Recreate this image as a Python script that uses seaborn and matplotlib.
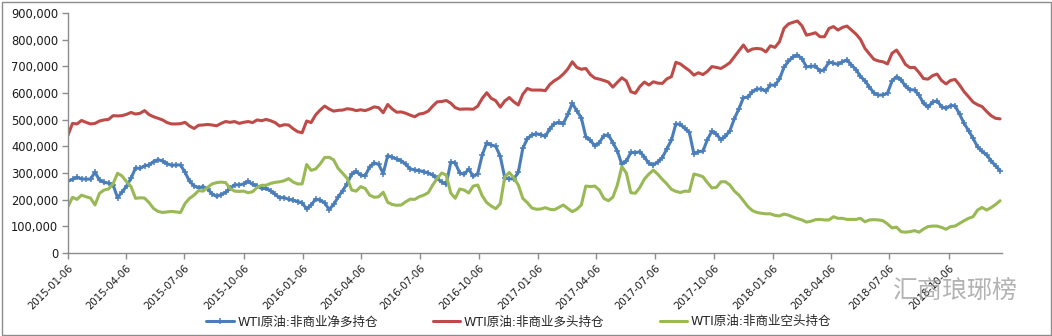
import numpy as np
import pandas as pd
import matplotlib
matplotlib.use("Agg")
import matplotlib.pyplot as plt
import matplotlib.ticker as mticker
from matplotlib.patches import Rectangle
import seaborn as sns

# Weekly WTI crude non-commercial positions (thousand contracts), weekly from 2015-01-06
start_date = "2015-01-06"

net_long = [
    270, 276, 284, 278, 277, 277, 303, 273, 265, 262, 256, 208, 228, 251, 280, 319,
    317, 327, 330, 343, 350, 345, 335, 329, 330, 330, 302, 269, 252, 245, 249, 240,
    222, 212, 219, 227, 242, 256, 255, 259, 269, 257, 252, 242, 242, 233, 220, 207,
    208, 201, 198, 193, 188, 165, 180, 202, 198, 188, 163, 182, 210, 234, 260, 296,
    306, 292, 290, 323, 338, 332, 298, 365, 359, 352, 346, 332, 316, 311, 309, 305,
    300, 292, 280, 266, 258, 340, 338, 300, 295, 315, 287, 298, 368, 413, 405, 400,
    362, 282, 278, 278, 302, 392, 429, 442, 447, 444, 437, 466, 485, 490, 485, 520,
    562, 533, 507, 436, 422, 402, 414, 440, 443, 414, 383, 332, 345, 377, 376, 380,
    360, 336, 330, 342, 358, 391, 423, 484, 482, 467, 452, 372, 380, 382, 425, 457,
    446, 425, 437, 459, 504, 541, 582, 585, 605, 615, 615, 607, 630, 629, 652, 696,
    719, 735, 742, 729, 698, 700, 701, 682, 688, 716, 712, 707, 717, 724, 705, 688,
    662, 646, 622, 600, 592, 593, 599, 645, 661, 650, 625, 613, 611, 592, 561, 547,
    566, 570, 549, 542, 553, 552, 521, 486, 459, 430, 398, 381, 368, 346, 327, 309,
]

long_pos = [
    442, 486, 484, 497, 490, 484, 486, 495, 499, 501, 515, 514, 515, 520, 527, 521,
    524, 534, 519, 511, 505, 499, 489, 484, 484, 485, 490, 476, 467, 479, 480, 482,
    480, 477, 486, 493, 490, 493, 486, 490, 493, 489, 499, 496, 501, 496, 489, 476,
    481, 480, 466, 455, 451, 495, 489, 518, 536, 551, 540, 532, 535, 536, 541, 539,
    534, 537, 534, 540, 548, 545, 526, 557, 540, 528, 529, 524, 517, 511, 521, 524,
    532, 551, 567, 568, 572, 562, 545, 539, 540, 540, 539, 551, 580, 601, 580, 571,
    547, 570, 583, 567, 555, 595, 617, 611, 611, 611, 609, 632, 646, 656, 671, 690,
    717, 696, 689, 692, 669, 656, 652, 647, 641, 622, 640, 657, 645, 605, 599, 624,
    641, 630, 642, 637, 636, 653, 661, 715, 709, 696, 684, 667, 676, 669, 681, 699,
    696, 692, 702, 714, 736, 758, 780, 756, 765, 767, 765, 754, 777, 771, 792, 842,
    859, 865, 870, 852, 817, 821, 826, 811, 811, 842, 849, 836, 846, 851, 836, 821,
    801, 767, 746, 726, 720, 717, 709, 749, 761, 736, 707, 695, 696, 677, 654, 652,
    665, 671, 647, 634, 647, 651, 630, 605, 586, 566, 556, 549, 531, 515, 505, 503,
]

short_pos = [
    174, 209, 201, 217, 211, 206, 180, 224, 236, 240, 259, 299, 289, 267, 249, 205,
    207, 206, 189, 167, 156, 152, 154, 156, 154, 152, 186, 205, 217, 234, 232, 246,
    259, 264, 266, 264, 242, 232, 231, 232, 226, 230, 246, 254, 254, 261, 265, 267,
    271, 279, 266, 259, 259, 332, 310, 315, 334, 358, 359, 349, 317, 299, 280, 236,
    232, 249, 242, 217, 209, 211, 228, 190, 182, 179, 180, 192, 202, 201, 211, 217,
    226, 255, 280, 300, 292, 225, 205, 240, 236, 225, 251, 255, 214, 189, 176, 166,
    185, 285, 302, 282, 255, 205, 189, 169, 164, 165, 170, 164, 162, 171, 180, 167,
    155, 164, 180, 251, 249, 251, 236, 205, 196, 209, 255, 324, 300, 226, 224, 246,
    277, 296, 311, 295, 276, 259, 239, 231, 227, 232, 231, 296, 292, 286, 264, 244,
    246, 267, 267, 255, 232, 217, 196, 174, 159, 152, 149, 147, 147, 141, 139, 146,
    142, 135, 129, 124, 116, 119, 125, 126, 124, 124, 136, 130, 130, 126, 126, 126,
    130, 117, 124, 125, 124, 121, 109, 94, 97, 80, 78, 80, 84, 78, 90, 99,
    101, 101, 96, 89, 99, 101, 111, 121, 130, 136, 161, 171, 161, 170, 182, 196,
]

series_names = [
    "WTI原油:非商业净多持仓",
    "WTI原油:非商业多头持仓",
    "WTI原油:非商业空头持仓",
]
series_colors = ["#4A7EBB", "#BE4B48", "#98B954"]

tick_labels = [
    "2015-01-06", "2015-04-06", "2015-07-06", "2015-10-06",
    "2016-01-06", "2016-04-06", "2016-07-06", "2016-10-06",
    "2017-01-06", "2017-04-06", "2017-07-06", "2017-10-06",
    "2018-01-06", "2018-04-06", "2018-07-06", "2018-10-06",
]
y_ticks = [0, 100000, 200000, 300000, 400000, 500000, 600000, 700000, 800000, 900000]

dates = pd.date_range(start_date, periods=len(net_long), freq="7D")
frames = []
for name, vals in zip(series_names, [net_long, long_pos, short_pos]):
    frames.append(pd.DataFrame({"date": dates, "value": np.asarray(vals) * 1000, "series": name}))
df = pd.concat(frames, ignore_index=True)

sns.set_theme(style="white")
plt.rcParams["font.family"] = ["DejaVu Sans", "Noto Sans CJK SC"]

W, H = 1052, 336
fig = plt.figure(figsize=(W / 100, H / 100), dpi=100)
fig.patch.set_facecolor("white")
ax = fig.add_axes([68 / W, 1 - 253 / H, (1002 - 68) / W, 240 / H])
ax.set_facecolor("white")

for name, color in zip(series_names, series_colors):
    sub = df[df["series"] == name]
    if name == series_names[0]:
        kw = dict(marker="+", markersize=4.5, markeredgewidth=1.1,
                  markeredgecolor=color, markerfacecolor=color)
    else:
        kw = {}
    sns.lineplot(data=sub, x="date", y="value", color=color, linewidth=2.2,
                 ax=ax, label=name, **kw)

ax.set_xlim(dates[0], dates[-1] + pd.Timedelta(days=3))
ax.set_ylim(0, 900000)
ax.set_yticks(y_ticks)
ax.yaxis.set_major_formatter(mticker.FuncFormatter(lambda v, p: f"{int(v):,}"))
tick_dates = pd.to_datetime(tick_labels)
ax.set_xticks(tick_dates)
ax.set_xticklabels(tick_labels, rotation=45, ha="right", va="top",
                   rotation_mode="anchor", fontsize=7.3, color="#1a1a1a")
for lab in ax.get_yticklabels():
    lab.set_fontsize(8.3)
    lab.set_color("#1a1a1a")
ax.set_xlabel("")
ax.set_ylabel("")

for side in ["top", "right"]:
    ax.spines[side].set_visible(False)
for side in ["left", "bottom"]:
    ax.spines[side].set_color("#8c8c8c")
    ax.spines[side].set_linewidth(1.0)
ax.tick_params(axis="both", direction="out", length=4, width=1, color="#8c8c8c",
               left=True, bottom=True)
ax.tick_params(axis="x", pad=3)
ax.tick_params(axis="y", pad=3)
ax.grid(False)

handles, labels = ax.get_legend_handles_labels()
ax.get_legend().remove()
fig.legend(handles, labels, loc="center", bbox_to_anchor=(0.493, 1 - 322 / H), ncol=3,
           frameon=False, fontsize=9, handlelength=2.2, handletextpad=0.3,
           columnspacing=4.4, numpoints=1)

# watermark
fig.text(955 / W, 1 - 291 / H, "汇商琅琊榜", fontsize=18, color="#9a9a9a", alpha=0.75,
         ha="center", va="center", family=["Noto Sans CJK SC"])

# chart-area border
fig.patches.append(Rectangle((1.5 / W, 1.5 / H), (W - 3) / W, (H - 3) / H,
                             transform=fig.transFigure, fill=False,
                             edgecolor="#8c8c8c", linewidth=1.0))

fig.savefig("out.png", dpi=100, facecolor="white")
